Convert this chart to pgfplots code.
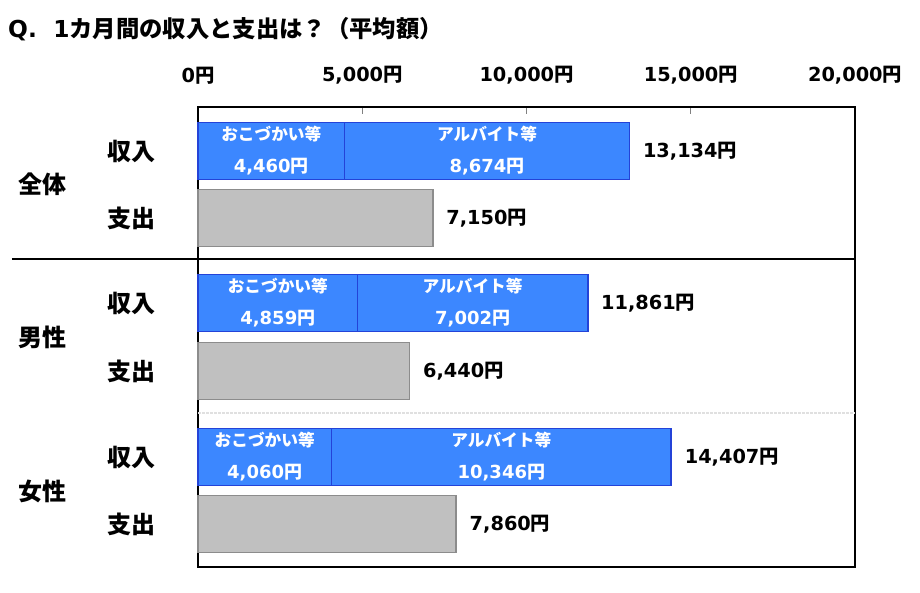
\documentclass[border=0pt]{standalone}
\usepackage{pgfplots}
\pgfplotsset{compat=1.18}
\usepackage{pgfplotstable}
\usepackage{fontspec}
\setmainfont{DejaVu Sans}
\newfontfamily\jp{Noto Sans CJK JP}
\newcommand{\yen}{{\jp 円}}

\definecolor{barblue}{HTML}{3C87FF}
\definecolor{edgeblue}{HTML}{2443D8}
\definecolor{bargray}{HTML}{C0C0C0}
\definecolor{edgegray}{HTML}{8C8C8C}

% y = pixel distance from the bottom of the frame
\pgfplotstableread{
y    okozukai  baito  total
416  4460      8674   13134
264  4859      7002   11861
110  4060      10346  14407
}\income
\pgfplotstableread{
y    spend
349  7150
196  6440
43   7860
}\spend

\pgfplotsset{
  endlabel/.style={
    point meta=x,
    nodes near coords={\pgfmathprintnumber[1000 sep={,}]{\pgfplotspointmeta}\yen},
    every node near coord/.append style={anchor=west, inner sep=0pt, xshift=9.5pt,
      text=black, font=\bfseries\fontsize{14.5}{16}\selectfont},
  },
  inlabel/.style={
    draw=none,
    nodes near coords={{\jp\bfseries\fontsize{12.5}{24}\selectfont #1}\\\pgfmathprintnumber[1000 sep={,}]{\pgfplotspointmeta}\yen},
    every node near coord/.append style={anchor=center, align=center, inner sep=0pt,
      text=white, font=\bfseries\fontsize{13.5}{24}\selectfont},
  },
}

\begin{document}
\begin{tikzpicture}
\begin{axis}[
  scale only axis, width=492.75pt, height=345pt,
  xmin=0, xmax=20000, ymin=0, ymax=460,
  clip=false,
  axis line style={black, line width=1.1pt},
  /pgf/number format/assume math mode=true,
  xtick={0,5000,10000,15000,20000},
  scaled x ticks=false,
  xtick pos=right, xticklabel pos=right,
  tick align=inside, major tick length=5pt,
  xtick style={gray, line width=0.6pt},
  xticklabel={\pgfmathprintnumber[1000 sep={,}]{\tick}\yen},
  xticklabel style={font=\bfseries\fontsize{14.5}{16}\selectfont, inner sep=0pt, yshift=17pt},
  ytick={43,110,196,264,349,416},
  yticklabels={支出,収入,支出,収入,支出,収入},
  ytick style={draw=none},
  yticklabel style={font=\jp\bfseries\fontsize{18}{20}\selectfont, inner sep=0pt, xshift=-32pt},
]
% page frame in pixel units
\path (axis cs:-6027,-25) rectangle (axis cs:21978,567);

% separators
\draw[black, line width=1pt] (axis cs:-5662,308) -- (axis cs:20000,308);
\draw[black!12, line width=0.8pt, dash pattern=on 2pt off 1pt] (axis cs:0,154) -- (axis cs:20000,154);

% income: total bar, then first part on top
\addplot[xbar, bar shift=0pt, bar width=57, fill=barblue, draw=edgeblue, line width=1.3pt, endlabel]
  table[x=total, y=y] {\income};
\addplot[xbar, bar shift=0pt, bar width=57, fill=barblue, draw=edgeblue, line width=1.3pt]
  table[x=okozukai, y=y] {\income};
% spending
\addplot[xbar, bar shift=0pt, bar width=57, fill=bargray, draw=edgegray, line width=1.3pt, endlabel]
  table[x=spend, y=y] {\spend};

% labels inside the blue bars
\addplot[inlabel={おこづかい等}, point meta=\thisrow{okozukai}]
  table[x expr=\thisrow{okozukai}/2, y=y] {\income};
\addplot[inlabel={アルバイト等}, point meta=\thisrow{baito}]
  table[x expr=\thisrow{okozukai}+\thisrow{baito}/2, y=y] {\income};

% group labels and title
\node[font=\jp\bfseries\fontsize{18}{20}\selectfont] at (axis cs:-4718,383) {全体};
\node[font=\jp\bfseries\fontsize{18}{20}\selectfont] at (axis cs:-4718,230) {男性};
\node[font=\jp\bfseries\fontsize{18}{20}\selectfont] at (axis cs:-4718,76) {女性};
\node[anchor=west, inner sep=0pt, font=\bfseries\fontsize{17.5}{20}\selectfont]
  at (axis cs:-5784,538) {Q.\hspace{0.7em}1{\jp カ月間の収入と支出は？（平均額）}};
\end{axis}
\end{tikzpicture}
\end{document}
